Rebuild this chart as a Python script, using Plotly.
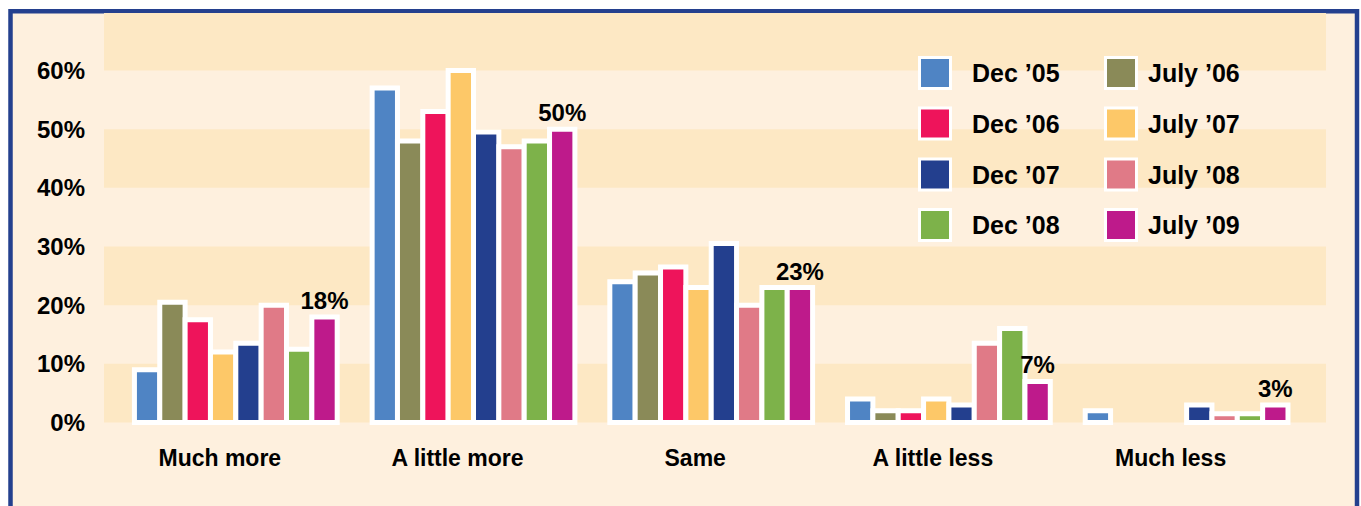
import plotly.graph_objects as go

# Survey answers and survey waves
categories = ["Much more", "A little more", "Same", "A little less", "Much less"]
waves = ["Dec ’05", "July ’06", "Dec ’06", "July ’07",
         "Dec ’07", "July ’08", "Dec ’08", "July ’09"]
colors = ["#4F84C4", "#8A8A58", "#EE145B", "#FDC868",
          "#233F8E", "#E07A87", "#7DB24A", "#BE1A8B"]

# Share of respondents (%) per wave, one value per answer category
dec_05 = [9, 57, 24, 4, 2]
july_06 = [20.5, 48, 25.5, 2, None]
dec_06 = [17.5, 53, 26.5, 2, None]
july_07 = [12, 60, 23, 4, None]
dec_07 = [13.5, 49.5, 30.5, 3, 3]
july_08 = [20, 47, 20, 13.5, 1.5]
dec_08 = [12.5, 48, 23, 16, 1.5]
july_09 = [18, 50, 23, 7, 3]
series = [dec_05, july_06, dec_06, july_07, dec_07, july_08, dec_08, july_09]

y_ticks = [0, 10, 20, 30, 40, 50, 60]
y_tick_labels = [f"{t}%" for t in y_ticks]

FONT = "Liberation Sans, Arial, sans-serif"
CREAM = "#FEF0DE"
BAND = "#FDE8C4"
FRAME = "#24408E"

W, H = 1361, 506
ML, MR, MT, MB = 104, 35, 13, 80
PW, PH = W - ML - MR, H - MT - MB


def px_x(x):
    return (x - ML) / PW


def px_y(y):
    return (H - MB - y) / PH


fig = go.Figure()

for i, (name, vals, col) in enumerate(zip(waves, series, colors)):
    last = i == len(waves) - 1
    fig.add_trace(go.Bar(
        name=name,
        x=categories,
        y=vals,
        marker=dict(color=col, line=dict(color="white", width=5)),
        text=[f"{v:g}%" for v in vals] if last else None,
        textposition="outside" if last else None,
        textfont=dict(family=FONT, size=24, color="black", weight="bold"),
        constraintext="none",
        cliponaxis=False,
        showlegend=False,
    ))

shapes = [
    # cream panel with blue frame
    dict(type="rect", xref="paper", yref="paper",
         x0=px_x(10.5), x1=px_x(1357), y0=px_y(530), y1=px_y(11.3),
         fillcolor=CREAM, line=dict(color=FRAME, width=4.5), layer="below"),
]
# alternating horizontal bands
for lo in range(0, 70, 20):
    shapes.append(dict(type="rect", xref="paper", yref="y",
                       x0=0, x1=1, y0=lo, y1=min(lo + 10, 69.8),
                       fillcolor=BAND, line=dict(width=0), layer="below"))

# two-column legend: swatches and labels
annotations = []
col_x = [935, 1121]
text_x = [970, 1146]
row_y = [73, 123.5, 174.5, 225]
for i, (name, col) in enumerate(zip(waves, colors)):
    r, c = divmod(i, 2)
    cx, cy = col_x[c], row_y[r]
    shapes.append(dict(type="rect", xref="paper", yref="paper",
                       x0=px_x(cx - 15.5), x1=px_x(cx + 15.5),
                       y0=px_y(cy + 15.5), y1=px_y(cy - 15.5),
                       fillcolor=col, line=dict(color="white", width=3),
                       layer="above"))
    annotations.append(dict(xref="paper", yref="paper",
                            x=px_x(text_x[c]), y=px_y(cy),
                            xanchor="left", yanchor="middle",
                            text=name, showarrow=False,
                            font=dict(family=FONT, size=25, color="black",
                                      weight="bold")))

fig.update_layout(
    width=W, height=H,
    margin=dict(l=ML, r=MR, t=MT, b=MB),
    paper_bgcolor="white",
    plot_bgcolor="rgba(0,0,0,0)",
    barmode="group",
    bargap=0.147,
    bargroupgap=0,
    showlegend=False,
    shapes=shapes,
    annotations=annotations,
    xaxis=dict(
        type="category",
        range=[-0.5545, 4.5864],
        showgrid=False, zeroline=False, showline=False, ticks="",
        tickangle=0,
        ticklabelshift=-16,
        ticklabelstandoff=16,
        tickfont=dict(family=FONT, size=23, color="black", weight="bold"),
    ),
    yaxis=dict(
        range=[-0.6, 69.8],
        tickvals=y_ticks, ticktext=y_tick_labels,
        showgrid=False, zeroline=False, showline=False, ticks="",
        ticklabelstandoff=18,
        tickfont=dict(family=FONT, size=24, color="black", weight="bold"),
    ),
)

fig.write_html("out.html")
